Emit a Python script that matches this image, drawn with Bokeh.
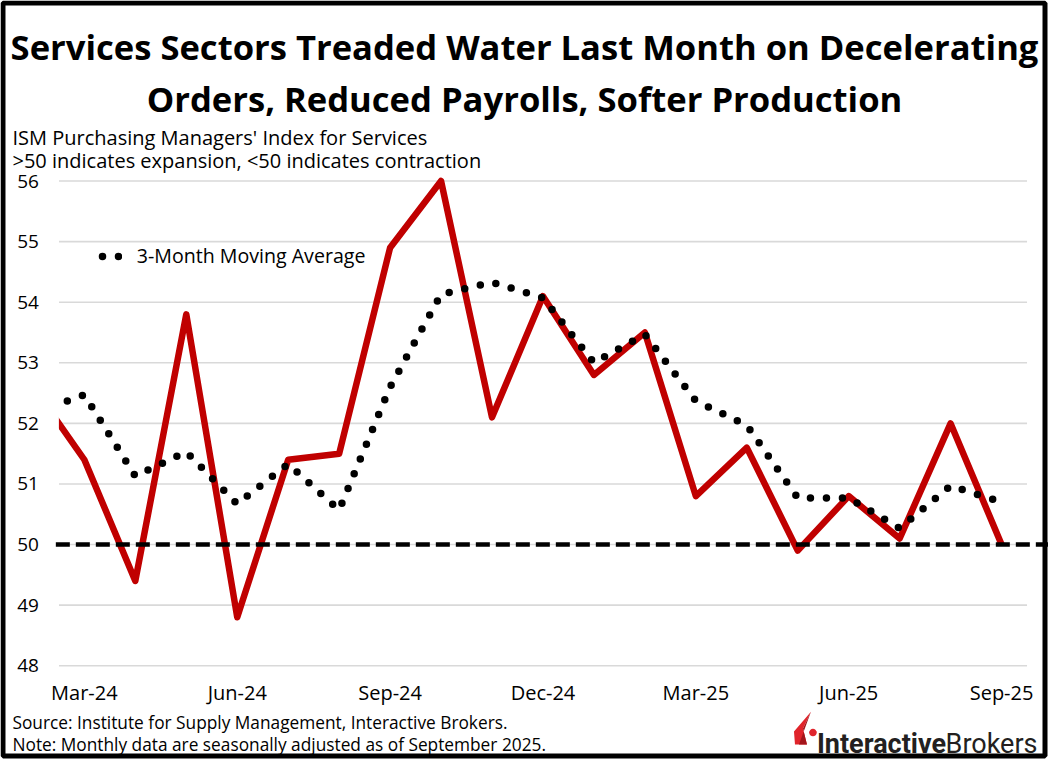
import math
from bokeh.plotting import figure
from bokeh.models import (Label, FixedTicker, BoxAnnotation, PolyAnnotation,
                          Range1d, Legend, LegendItem)
from bokeh.embed import file_html
from bokeh.resources import INLINE

# ---------------- data ----------------
months = ["Feb-24", "Mar-24", "Apr-24", "May-24", "Jun-24", "Jul-24", "Aug-24",
          "Sep-24", "Oct-24", "Nov-24", "Dec-24", "Jan-25", "Feb-25", "Mar-25",
          "Apr-25", "May-25", "Jun-25", "Jul-25", "Aug-25", "Sep-25"]
pmi = [52.6, 51.4, 49.4, 53.8, 48.8, 51.4, 51.5, 54.9, 56.0, 52.1, 54.1,
       52.8, 53.5, 50.8, 51.6, 49.9, 50.8, 50.1, 52.0, 50.0]
ma3 = [52.17, 52.47, 51.13, 51.53, 50.67, 51.33, 50.57, 52.60, 54.13, 54.33,
       54.07, 53.00, 53.47, 52.37, 51.97, 50.77, 50.77, 50.27, 50.97, 50.70]
tick_labels = ["Mar-24", "Jun-24", "Sep-24", "Dec-24", "Mar-25", "Jun-25", "Sep-25"]
y_ticks = [48, 49, 50, 51, 52, 53, 54, 55, 56]
threshold = 50

title_lines = ["Services Sectors Treaded Water Last Month on Decelerating",
               "Orders, Reduced Payrolls, Softer Production"]
subtitle_lines = ["ISM Purchasing Managers' Index for Services",
                  ">50 indicates expansion, <50 indicates contraction"]
footer_lines = ["Source: Institute for Supply Management, Interactive Brokers.",
                "Note: Monthly data are seasonally adjusted as of September 2025."]
series_name = "3-Month Moving Average"

# ---------------- layout (reference pixels -> canvas pixels) ----------------
W, H = 1048, 761
SX, SY = W / 1050.0, H / 763.0


def px(rx):
    return rx * SX


def py(ry):
    return ry * SY


PL, PR, PT, PB = 58.5, 1028.5, 181.0, 667.0     # chart area in reference px
x_first = 0.5                                    # half a month before Mar-24
x_last = len(months) - 0.5                       # half a month after Sep-25
ppu = (px(PR) - px(PL)) / (x_last - x_first)
x_start = x_first - px(PL) / ppu
x_end = x_first + (W - px(PL)) / ppu
y0, y1 = y_ticks[0], y_ticks[-1]
ppy = (py(PB) - py(PT)) / (y1 - y0)
y_start = y0 - (H - py(PB)) / ppy
y_end = y1 + py(PT) / ppy


def dx(rx):
    return x_start + px(rx) / ppu


def dy(ry):
    return y_end - py(ry) / ppy


p = figure(width=W, height=H, output_backend="svg", toolbar_location=None,
           x_range=Range1d(x_start, x_end), y_range=Range1d(y_start, y_end),
           min_border=0, min_border_left=0, min_border_right=0,
           min_border_top=0, min_border_bottom=0)
p.outline_line_color = None
p.background_fill_color = "white"
p.border_fill_color = "white"
p.xgrid.visible = False
p.ygrid.visible = False

FONT = "Open Sans"

# axes, pinned to the chart area
p.yaxis.fixed_location = x_first
p.yaxis.ticker = FixedTicker(ticks=y_ticks)
p.yaxis.axis_line_color = None
p.yaxis.major_tick_line_color = None
p.yaxis.minor_tick_line_color = None
p.yaxis.major_tick_out = 0
p.yaxis.major_tick_in = 0
p.yaxis.major_label_standoff = 20
p.yaxis.major_label_text_font = FONT
p.yaxis.major_label_text_font_size = "19px"
p.yaxis.major_label_text_color = "black"

tick_pos = [months.index(m) for m in tick_labels]
p.xaxis.fixed_location = y0
p.xaxis.ticker = FixedTicker(ticks=tick_pos)
p.xaxis.major_label_overrides = {tp: lab for tp, lab in zip(tick_pos, tick_labels)}
p.xaxis.axis_line_color = None
p.xaxis.major_tick_line_color = None
p.xaxis.minor_tick_line_color = None
p.xaxis.major_tick_out = 0
p.xaxis.major_tick_in = 0
p.xaxis.major_label_standoff = 13
p.xaxis.major_label_text_font = FONT
p.xaxis.major_label_text_font_size = "20px"
p.xaxis.major_label_text_color = "black"

# gridlines across the chart area
p.segment(x0=[x_first] * len(y_ticks), y0=y_ticks,
          x1=[x_last] * len(y_ticks), y1=y_ticks,
          line_color="#d9d9d9", line_width=1.6)

# series
p.line(list(range(len(months))), pmi, line_color="#c00000", line_width=6.5,
       line_join="round")
ma_r = p.line(list(range(len(months))), ma3, line_color="black", line_width=7.5,
              line_dash="0 16", line_dash_offset=12, line_cap="round")

# hide the part of the series before the chart area's left edge
p.quad(left=[x_start], right=[x_first], bottom=[y_start], top=[y_end],
       fill_color="white", line_color=None)

# 50 = expansion / contraction line
p.segment(x0=[x_first - 0.06], y0=[threshold], x1=[x_end], y1=[threshold],
          line_color="black", line_width=4.5, line_dash="14 6")

# legend
leg = Legend(items=[LegendItem(label=series_name, renderers=[ma_r])])
leg.location = (px(98), H - py(258) - 12)
leg.padding = 0
leg.margin = 0
leg.spacing = 0
leg.glyph_width = 24
leg.glyph_height = 24
leg.label_height = 24
leg.label_standoff = 15
leg.label_text_font = FONT
leg.label_text_font_size = "19.6px"
leg.label_text_color = "black"
leg.label_text_baseline = "middle"
leg.border_line_color = None
leg.background_fill_alpha = 0
p.add_layout(leg, "center")


def add_label(text, rx, ry, size, align="left", bold=False, font=FONT, color="black"):
    p.add_layout(Label(x=dx(rx), y=dy(ry), text=text, text_align=align,
                       text_baseline="alphabetic", text_font=font,
                       text_font_size=size, text_color=color,
                       text_font_style="bold" if bold else "normal"))


# titles and notes
add_label(title_lines[0], 525, 46, "34.6px", align="center", bold=True)
add_label(title_lines[1], 525, 98, "34.6px", align="center", bold=True)
add_label(subtitle_lines[0], 12, 137, "20px")
add_label(subtitle_lines[1], 12, 160, "20px")
add_label(footer_lines[0], 12, 724, "17.3px")
add_label(footer_lines[1], 12, 746, "17.3px")

# logo
add_label("Interactive", 818, 745, "27px", bold=True, font="Roboto", color="#231f20")
add_label("Brokers", 1039, 745, "27px", align="right", font="Roboto", color="#231f20")
icon_main = [(812, 713), (795, 733), (796, 746), (808, 746), (804, 730)]
p.add_layout(PolyAnnotation(xs=[dx(a) for a, b in icon_main], ys=[dy(b) for a, b in icon_main],
                            fill_color="#e0242b", fill_alpha=1, line_color=None))
icon_dark = [(812, 713), (804, 730), (808, 746), (800, 746)]
p.add_layout(PolyAnnotation(xs=[dx(a) for a, b in icon_dark], ys=[dy(b) for a, b in icon_dark],
                            fill_color="#a3151b", fill_alpha=1, line_color=None))
cxr, cyr, rr = 814, 734, 3.8
circ = [(cxr + rr * math.cos(2 * math.pi * k / 16), cyr + rr * math.sin(2 * math.pi * k / 16))
        for k in range(16)]
p.add_layout(PolyAnnotation(xs=[dx(a) for a, b in circ], ys=[dy(b) for a, b in circ],
                            fill_color="#e0242b", fill_alpha=1, line_color=None))

# outer frame
p.add_layout(BoxAnnotation(left=dx(2.5), right=dx(1046.5), top=dy(2.5), bottom=dy(757.5),
                           fill_alpha=0, line_color="black", line_width=5, line_alpha=1))

open("out.html", "w").write(file_html(p, INLINE))
